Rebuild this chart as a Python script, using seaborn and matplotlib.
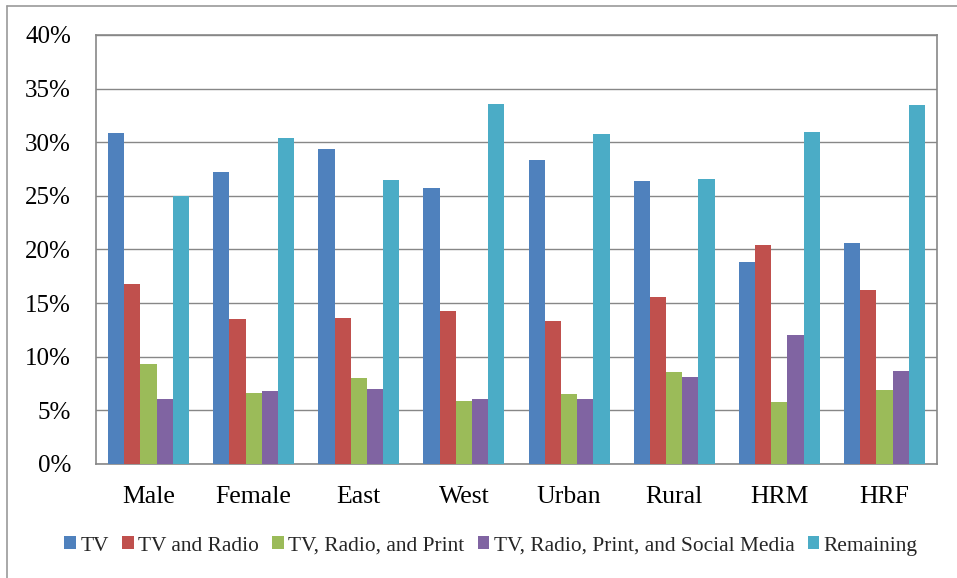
import matplotlib
matplotlib.use("Agg")
import matplotlib.pyplot as plt
from matplotlib.lines import Line2D
from matplotlib.ticker import FuncFormatter
import pandas as pd
import seaborn as sns

# Share of respondents by media mix, per demographic group (percent)
groups = ["Male", "Female", "East", "West", "Urban", "Rural", "HRM", "HRF"]
series = ["TV", "TV and Radio", "TV, Radio, and Print",
          "TV, Radio, Print, and Social Media", "Remaining"]
tv = [30.9, 27.2, 29.4, 25.7, 28.3, 26.4, 18.8, 20.6]
tv_radio = [16.8, 13.5, 13.6, 14.3, 13.3, 15.6, 20.4, 16.2]
tv_radio_print = [9.3, 6.6, 8.0, 5.9, 6.5, 8.6, 5.8, 6.9]
tv_radio_print_social = [6.1, 6.8, 7.0, 6.1, 6.1, 8.1, 12.0, 8.7]
remaining = [25.0, 30.4, 26.5, 33.6, 30.8, 26.6, 31.0, 33.5]
y_ticks = [0, 5, 10, 15, 20, 25, 30, 35, 40]

colors = ["#4F81BD", "#C0504D", "#9BBB59", "#8064A2", "#4BACC6"]

rows = []
for name, vals in zip(series, [tv, tv_radio, tv_radio_print,
                               tv_radio_print_social, remaining]):
    for g, v in zip(groups, vals):
        rows.append({"Group": g, "Media": name, "Share": v})
df = pd.DataFrame(rows)

sns.set_style("white")
plt.rcParams["font.family"] = ["Liberation Serif", "DejaVu Serif"]

fig = plt.figure(figsize=(9.57, 5.78), dpi=100)
ax = fig.add_axes([96 / 957, 1 - 464 / 578, 841 / 957, 429 / 578])

sns.barplot(data=df, x="Group", y="Share", hue="Media", order=groups,
            hue_order=series, palette=colors, width=0.77, gap=0,
            saturation=1, edgecolor="none", linewidth=0, ax=ax, zorder=3)

ax.set_ylim(0, 40)
ax.set_xlim(-0.5, len(groups) - 0.5)
ax.set_yticks(y_ticks)
ax.yaxis.set_major_formatter(FuncFormatter(lambda v, _: f"{v:.0f}%"))
ax.grid(axis="y", color="#878787", linewidth=1.0, zorder=0)
ax.set_axisbelow(True)
ax.set_xlabel("")
ax.set_ylabel("")
ax.tick_params(axis="y", length=0, pad=18, labelsize=18, labelcolor="black")
ax.tick_params(axis="x", length=0, pad=16, labelsize=18.5, labelcolor="black")
for sp in ax.spines.values():
    sp.set_visible(True)
    sp.set_color("#878787")
    sp.set_linewidth(1.2)

handles, labels = ax.get_legend_handles_labels()
ax.get_legend().remove()
fig.legend(handles, labels, loc="center", ncol=5,
           bbox_to_anchor=(491 / 957, 1 - 546 / 578),
           frameon=False, fontsize=15.4, handlelength=0.55, handleheight=0.55,
           handletextpad=0.2, columnspacing=0.62, borderpad=0, borderaxespad=0)

# Outer frame lines along the top and left edges
fig.add_artist(Line2D([7 / 957, 1.0], [1 - 6 / 578, 1 - 6 / 578],
                      transform=fig.transFigure, color="#9a9a9a", linewidth=1.2))
fig.add_artist(Line2D([7 / 957, 7 / 957], [0.0, 1 - 6 / 578],
                      transform=fig.transFigure, color="#9a9a9a", linewidth=1.2))

fig.savefig("out.png", dpi=100, facecolor="white")
